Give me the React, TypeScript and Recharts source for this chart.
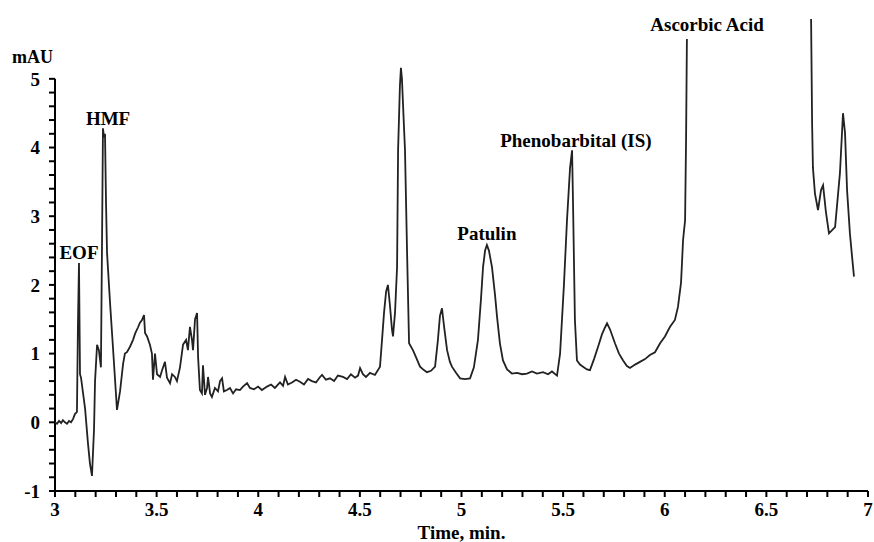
import { LineChart, Line, XAxis, YAxis, ReferenceLine, ReferenceDot } from "recharts";

// retention time (min) and absorbance (mAU)
const times = [
  3.0, 3.01, 3.02, 3.03, 3.039, 3.049, 3.059, 3.069, 3.079, 3.089, 3.098, 3.108, 3.113, 3.118, 3.123, 3.128,
  3.148, 3.162, 3.172, 3.182, 3.192, 3.197, 3.207, 3.216, 3.226, 3.231, 3.236, 3.241, 3.246, 3.251, 3.256,
  3.271, 3.285, 3.305, 3.32, 3.335, 3.344, 3.354, 3.369, 3.384, 3.394, 3.408, 3.418, 3.428, 3.438, 3.443,
  3.453, 3.467, 3.477, 3.482, 3.492, 3.502, 3.517, 3.526, 3.541, 3.551, 3.566, 3.576, 3.59, 3.6, 3.615,
  3.63, 3.645, 3.654, 3.664, 3.674, 3.679, 3.689, 3.699, 3.704, 3.713, 3.723, 3.728, 3.738, 3.748, 3.753,
  3.763, 3.772, 3.787, 3.802, 3.812, 3.822, 3.831, 3.846, 3.861, 3.876, 3.891, 3.91, 3.925, 3.945, 3.959,
  3.979, 3.999, 4.018, 4.043, 4.063, 4.082, 4.107, 4.122, 4.132, 4.146, 4.166, 4.186, 4.205, 4.225, 4.245,
  4.264, 4.284, 4.304, 4.314, 4.333, 4.353, 4.373, 4.392, 4.417, 4.437, 4.456, 4.476, 4.491, 4.501, 4.515,
  4.53, 4.55, 4.565, 4.574, 4.589, 4.599, 4.609, 4.619, 4.629, 4.638, 4.648, 4.658, 4.663, 4.673, 4.683,
  4.688, 4.697, 4.702, 4.707, 4.717, 4.722, 4.732, 4.742, 4.761, 4.776, 4.796, 4.815, 4.83, 4.85, 4.87,
  4.884, 4.894, 4.904, 4.914, 4.929, 4.943, 4.953, 4.973, 4.993, 5.017, 5.042, 5.061, 5.081, 5.096, 5.106,
  5.116, 5.125, 5.135, 5.15, 5.165, 5.175, 5.189, 5.204, 5.224, 5.248, 5.273, 5.298, 5.322, 5.347, 5.371,
  5.401, 5.426, 5.445, 5.47, 5.485, 5.504, 5.519, 5.534, 5.544, 5.549, 5.558, 5.568, 5.583, 5.598, 5.617,
  5.632, 5.652, 5.672, 5.691, 5.706, 5.716, 5.731, 5.755, 5.775, 5.795, 5.814, 5.829, 5.854, 5.878, 5.903,
  5.927, 5.952, 5.977, 6.001, 6.026, 6.05, 6.065, 6.08, 6.085, 6.09, 6.1, 6.105, 6.109,
  6.4,
  6.72, 6.725, 6.729, 6.739, 6.754, 6.769, 6.779, 6.793, 6.808, 6.838, 6.862, 6.877, 6.887, 6.897, 6.911,
  6.921, 6.931,
];

const signal: (number | null)[] = [
  0.0, -0.02, 0.02, -0.01, 0.03, 0.0, -0.02, 0.02, 0.0, 0.05, 0.12, 0.15, 1.45, 2.32, 0.7, 0.65,
  0.2, -0.3, -0.6, -0.78, -0.1, 0.6, 1.13, 1.05, 0.8, 2.5, 4.28, 4.15, 4.2, 3.2, 2.47,
  1.73, 1.1, 0.18, 0.45, 0.85, 1.0, 1.02, 1.1, 1.2, 1.29, 1.38, 1.45, 1.49, 1.56, 1.3,
  1.25, 1.13, 1.0, 0.62, 1.0, 0.7, 0.66, 0.75, 0.88, 0.65, 0.57, 0.7, 0.66, 0.6, 0.8,
  1.13, 1.2, 1.05, 1.39, 1.2, 1.05, 1.5, 1.59, 0.95, 0.47, 0.42, 0.83, 0.4, 0.5, 0.66,
  0.42, 0.37, 0.5, 0.45, 0.6, 0.64, 0.45, 0.47, 0.5, 0.42, 0.48, 0.47, 0.52, 0.57, 0.5,
  0.48, 0.52, 0.47, 0.52, 0.55, 0.5, 0.58, 0.53, 0.66, 0.55, 0.58, 0.62, 0.59, 0.55, 0.63,
  0.6, 0.58, 0.66, 0.69, 0.62, 0.64, 0.6, 0.68, 0.66, 0.63, 0.7, 0.65, 0.68, 0.79, 0.7,
  0.66, 0.72, 0.7, 0.69, 0.76, 0.81, 1.2, 1.6, 1.9, 2.0, 1.7, 1.35, 1.25, 1.6, 2.26,
  3.96, 4.9, 5.16, 5.0, 4.3, 3.96, 2.5, 1.15, 1.05, 0.95, 0.81, 0.76, 0.73, 0.75, 0.81,
  1.2, 1.55, 1.66, 1.4, 1.05, 0.88, 0.81, 0.72, 0.64, 0.63, 0.64, 0.8, 1.2, 1.8, 2.26,
  2.5, 2.58, 2.5, 2.26, 1.85, 1.53, 1.15, 0.9, 0.77, 0.71, 0.72, 0.7, 0.71, 0.74, 0.71,
  0.73, 0.7, 0.74, 0.68, 1.0, 2.0, 2.94, 3.7, 3.96, 3.14, 1.49, 0.9, 0.84, 0.81, 0.77,
  0.76, 0.92, 1.1, 1.28, 1.38, 1.44, 1.35, 1.15, 1.0, 0.9, 0.82, 0.79, 0.84, 0.88, 0.92,
  0.98, 1.02, 1.15, 1.25, 1.39, 1.49, 1.68, 2.03, 2.33, 2.65, 2.94, 4.15, 5.58,
  null,
  5.87, 4.35, 3.71, 3.33, 3.09, 3.38, 3.45, 3.06, 2.75, 2.84, 3.63, 4.5, 4.21, 3.38, 2.75,
  2.43, 2.12,
];

const xMajorTicks = [3, 3.5, 4, 4.5, 5, 5.5, 6, 6.5, 7];
const yMajorTicks = [-1, 0, 1, 2, 3, 4, 5];

const peakNames = ["EOF", "HMF", "Patulin", "Phenobarbital (IS)", "Ascorbic Acid"];
const peakLabelX = [3.118, 3.261, 5.125, 5.563, 6.208];
const peakLabelY = [2.48, 4.43, 2.75, 4.11, 5.79];

const data = times.map((t, i) => ({ t, v: signal[i] }));

// minor ticks: 0.1 min on x, 0.2 mAU on y
const xTicks: number[] = [];
for (let i = 0; i <= 40; i++) xTicks.push(Math.round((3 + i * 0.1) * 10) / 10);
const yTicks: number[] = [];
for (let i = 0; i <= 30; i++) yTicks.push(Math.round((-1 + i * 0.2) * 10) / 10);

const font = "'Liberation Serif', 'Times New Roman', serif";
const textStyle = { fill: "#000", fontSize: 19, fontWeight: "bold", fontFamily: font };
const tickLineStyle = { stroke: "#000", strokeWidth: 2 };

function XTick(props: any) {
  const { x, y, payload } = props;
  const v = payload.value;
  if (!xMajorTicks.includes(v)) return <g />;
  return (
    <text x={x} y={y} dy="0.71em" textAnchor="middle" {...textStyle}>
      {v}
    </text>
  );
}

function YTick(props: any) {
  const { x, y, payload } = props;
  const v = payload.value;
  if (!yMajorTicks.includes(v)) return <g />;
  return (
    <text x={x - 1} y={y} dy="0.355em" textAnchor="end" {...textStyle}>
      {v}
    </text>
  );
}

export default function App() {
  return (
    <div style={{ position: "relative", width: 874, height: 542 }}>
      <style>{`body{margin:0;}`}</style>
      <LineChart width={874} height={542} data={data} margin={{ top: 17, right: 6, bottom: 0, left: 0 }}>
        <XAxis
          dataKey="t"
          type="number"
          domain={[3, 7]}
          ticks={xTicks}
          interval={0}
          tick={<XTick />}
          tickLine={tickLineStyle}
          tickSize={6}
          tickMargin={6}
          height={51}
          axisLine={{ stroke: "#000", strokeWidth: 2 }}
          label={{ value: "Time, min.", position: "insideBottom", offset: 3, ...textStyle }}
        />
        <YAxis
          type="number"
          domain={[-1, 5.9]}
          ticks={yTicks}
          interval={0}
          tick={<YTick />}
          tickLine={tickLineStyle}
          tickSize={6}
          tickMargin={8}
          width={55}
          axisLine={false}
        />
        <ReferenceLine
          segment={[
            { x: 3, y: -1 },
            { x: 3, y: 5 },
          ]}
          stroke="#000"
          strokeWidth={2}
        />
        <Line
          dataKey="v"
          type="linear"
          stroke="#222"
          strokeWidth={1.8}
          dot={false}
          connectNulls={false}
          isAnimationActive={false}
        />
        {peakNames.map((name, i) => (
          <ReferenceDot
            key={name}
            x={peakLabelX[i]}
            y={peakLabelY[i]}
            r={0}
            fill="none"
            stroke="none"
            label={{ value: name, position: "center", ...textStyle }}
          />
        ))}
      </LineChart>
      <div
        style={{
          position: "absolute",
          left: 12,
          top: 47,
          fontFamily: font,
          fontWeight: "bold",
          fontSize: 18,
          lineHeight: "20px",
        }}
      >
        mAU
      </div>
    </div>
  );
}
